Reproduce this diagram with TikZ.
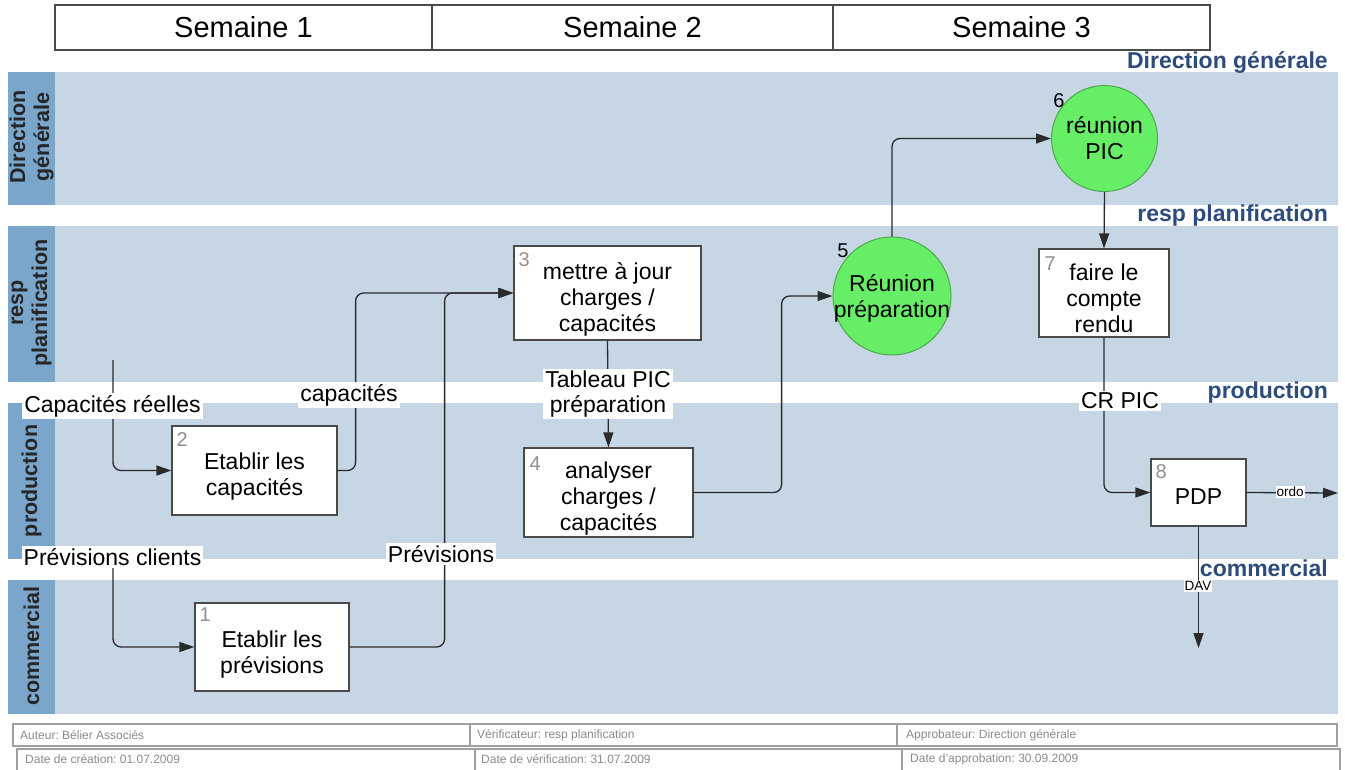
\documentclass[tikz,border=0pt]{standalone}
\usepackage{fontspec}
\setmainfont{Liberation Sans}
\usetikzlibrary{arrows.meta,calc}
\frenchspacing
\definecolor{lanebg}{HTML}{C6D6E5}
\definecolor{lanecol}{HTML}{7AA6CB}
\definecolor{lanehead}{HTML}{2D4B7C}
\definecolor{circfill}{HTML}{66EE66}
\definecolor{circdraw}{HTML}{4FA84F}
\definecolor{connc}{HTML}{2A2A2A}
\definecolor{numgray}{HTML}{909090}
\definecolor{footc}{HTML}{A0A0A0}
\definecolor{foottxt}{HTML}{8A8A8A}
\tikzset{
  hdr/.style={draw=connc!85!white, line width=1.2pt, minimum height=45pt, inner sep=0pt, font=\fontsize{29}{32}\selectfont},
  task/.style={draw=connc!85!white, line width=1.2pt, fill=white, inner sep=0pt},
  tasktext/.style={align=center, inner sep=0pt, font=\fontsize{23}{26}\selectfont},
  meet/.style={circle, draw=circdraw, line width=1pt, fill=circfill, inner sep=0pt},
  num/.style={anchor=north west, inner sep=0pt, text=numgray, font=\fontsize{20}{22}\selectfont},
  bignum/.style={inner sep=0pt, font=\fontsize{20}{22}\selectfont},
  flow/.style={draw=connc, line width=1.3pt, rounded corners=8pt, -{Triangle[length=15pt,width=10pt]}},
  lbl/.style={fill=white, inner sep=2pt, align=center, font=\fontsize{23}{25}\selectfont},
  smalllbl/.style={fill=white, inner sep=1pt, font=\fontsize{13.5}{15}\selectfont},
  lanetxt/.style={rotate=90, align=center, inner sep=0pt, font=\bfseries\fontsize{21.5}{24}\selectfont, text=black!85},
  lanehd/.style={anchor=base east, inner sep=0pt, text=lanehead, font=\bfseries\fontsize{23}{25}\selectfont},
  footcell/.style={draw=footc, line width=1.3pt},
  foottext/.style={anchor=west, inner sep=0pt, text=foottxt, font=\fontsize{12}{14}\selectfont}
}
\begin{document}
\begin{tikzpicture}[x=1pt,y=-1pt]
\useasboundingbox (0,0) rectangle (1345,769);
% header
\node[hdr, minimum width=377pt] (s1) at (243.5,27.5) {Semaine 1};
\node[hdr, minimum width=401pt] (s2) at (632.5,27.5) {Semaine 2};
\node[hdr, minimum width=377pt] (s3) at (1021.5,27.5) {Semaine 3};
% lanes
\fill[lanebg] (55,72) rectangle (1338,205);
\fill[lanecol] (8,72) rectangle (55,205);
\fill[lanebg] (55,226) rectangle (1338,382);
\fill[lanecol] (8,226) rectangle (55,382);
\fill[lanebg] (55,403) rectangle (1338,559);
\fill[lanecol] (8,403) rectangle (55,559);
\fill[lanebg] (55,580) rectangle (1338,714);
\fill[lanecol] (8,580) rectangle (55,714);
\node[lanetxt] (l1) at (31.5,137) {Direction\\générale};
\node[lanetxt] (l2) at (31.5,303) {resp\\planification};
\node[lanetxt] (l3) at (31.5,481) {production};
\node[lanetxt] (l4) at (31.5,646) {commercial};
\node[lanehd] (h1) at (1328,68) {Direction générale};
\node[lanehd] (h2) at (1328,221) {resp planification};
\node[lanehd] (h3) at (1328,398) {production};
\node[lanehd] (h4) at (1328,576) {commercial};
% tasks
\node[task, minimum width=154pt, minimum height=88pt] (b1) at (272,647) {};
\node[task, minimum width=165pt, minimum height=89pt] (b2) at (254.5,470.5) {};
\node[task, minimum width=187pt, minimum height=94pt] (b3) at (607.5,293) {};
\node[task, minimum width=169pt, minimum height=89pt] (b4) at (608.5,492.5) {};
\node[meet, minimum size=118pt] (c5) at (892,296) {};
\node[meet, minimum size=106pt] (c6) at (1104.5,138.5) {};
\node[task, minimum width=130pt, minimum height=88pt] (b7) at (1104,293) {};
\node[task, minimum width=95pt, minimum height=67pt] (b8) at (1198.5,492.5) {};
\node[tasktext] (t1) at ($(b1)+(0,8)$) {Etablir les\\prévisions};
\node[tasktext] (t2) at ($(b2)+(0,6)$) {Etablir les\\capacités};
\node[tasktext] (t3) at ($(b3)+(0,6)$) {mettre à jour\\charges /\\capacités};
\node[tasktext] (t4) at ($(b4)+(0,6)$) {analyser\\charges /\\capacités};
\node[tasktext] (t5) at ($(c5)+(0,2)$) {Réunion\\préparation};
\node[tasktext] (t6) at ($(c6)+(0,0)$) {réunion\\PIC};
\node[tasktext] (t7) at ($(b7)+(0,5)$) {faire le\\compte\\rendu};
\node[tasktext] (t8) at ($(b8)+(0,4)$) {PDP};
\node[num] (n1) at ($(b1.north west)+(5,5)$) {1};
\node[num] (n2) at ($(b2.north west)+(5,7)$) {2};
\node[num] (n3) at ($(b3.north west)+(5,7)$) {3};
\node[num] (n4) at ($(b4.north west)+(6,9)$) {4};
\node[num] (n7) at ($(b7.north west)+(6,8)$) {7};
\node[num] (n8) at ($(b8.north west)+(5,6)$) {8};
\node[bignum] (n5) at (843,251) {5};
\node[bignum] (n6) at (1059,101) {6};
% free ends
\coordinate (cr) at (113,360);
\coordinate (pc) at (113,560);
\coordinate (ordoend) at (1338,493);
\coordinate (davend) at (1198.5,648);
% connectors
\draw[flow] (cr) |- (b2.west);
\draw[flow] (pc) |- (b1.west);
\draw[flow] (b2.east) -- ++(18,0) |- (b3.west);
\draw[flow] (b1.east) -- ++(95,0) |- (b3.west);
\draw[flow] (b3.south) -- (b4.north);
\draw[flow] (b4.east) -- ++(88,0) |- (c5.west);
\draw[flow] (c5.north) |- (c6.west);
\draw[flow] (c6.south) -- (b7.north);
\draw[flow] (b7.south) |- (b8.west);
\draw[flow] (b8.east) -- (ordoend);
\draw[flow] (b8.south) -- (davend);
% labels
\node[lbl] (lcr) at (112.5,406) {Capacités réelles};
\node[lbl] (lpc) at (112.5,557) {Prévisions clients};
\node[lbl] (lcap) at (349,395) {capacités};
\node[lbl] (lprev) at (441,554) {Prévisions};
\node[lbl] (ltab) at (608,394) {Tableau PIC\\préparation};
\node[lbl] (lcrpic) at (1120,401) {CR PIC};
\node[smalllbl] (lordo) at (1290,492) {ordo};
\node[smalllbl] (ldav) at (1198,586) {DAV};
% footer
\draw[footcell] (13,724) rectangle (470,746);
\draw[footcell] (470,724) rectangle (897,746);
\draw[footcell] (897,724) rectangle (1337,746);
\draw[footcell] (17,749) rectangle (475,772);
\draw[footcell] (475,749) rectangle (902,772);
\draw[footcell] (902,749) rectangle (1340,772);
\node[foottext] (f1) at (20,735) {Auteur: Bélier Associés};
\node[foottext] (f2) at (477,735) {Vérificateur: resp planification};
\node[foottext] (f3) at (906,735) {Approbateur: Direction générale};
\node[foottext] (f4) at (25,759) {Date de création: 01.07.2009};
\node[foottext] (f5) at (481,759) {Date de vérification: 31.07.2009};
\node[foottext] (f6) at (910,759) {Date d'approbation: 30.09.2009};
\end{tikzpicture}
\end{document}
